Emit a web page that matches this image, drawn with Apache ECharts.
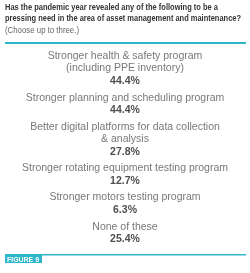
<!DOCTYPE html>
<html><head><meta charset="utf-8">
<script src="https://cdn.jsdelivr.net/npm/echarts@6/dist/echarts.min.js"></script>
<style>html,body{margin:0;padding:0;background:#fff}#c{width:250px;height:273px}</style>
</head><body><div id="c"></div>
<script>
var categories = [
  "Stronger health & safety program\n(including PPE inventory)",
  "Stronger planning and scheduling program",
  "Better digital platforms for data collection\n& analysis",
  "Stronger rotating equipment testing program",
  "Stronger motors testing program",
  "None of these"
];
var values = [44.4, 44.4, 27.8, 12.7, 6.3, 25.4];
var titleLines = [
  "Has the pandemic year revealed any of the following to be a",
  "pressing need in the area of asset management and maintenance?"
];
var subtitle = "(Choose up to three.)";
var figureLabel = "FIGURE 9";

var GAP = 0.35; // gap between blocks in line units
var starts = [], acc = 0;
categories.forEach(function (c, i) {
  starts.push(acc);
  acc += c.split("\n").length + 1 + GAP;
});
var total = acc;
var lineH = 12.4;
var gridTop = 50;
var gridH = total * lineH;

var mctx = document.createElement('canvas').getContext('2d');
function measure(t, font) { mctx.font = font; return mctx.measureText(t).width; }
var titleFont = "bold 9.5px 'Liberation Sans'";
var subFont = "9.5px 'Liberation Sans'";
var titleWidths = [213, 236];
var subWidth = 74;
var figFont = "bold 7.5px 'Liberation Sans'";
var fsx = 32 / measure(figureLabel, figFont);

var teal = "#2db6c9";
var chart = echarts.init(document.getElementById('c'), null, {renderer: 'canvas'});
var graphics = [];
titleLines.forEach(function (t, i) {
  graphics.push({type: 'text', x: 5, y: 2 + i * 11.7, scaleX: titleWidths[i] / measure(t, titleFont),
    style: {text: t, fill: "#333", font: titleFont, textVerticalAlign: 'top'}});
});
graphics.push({type: 'text', x: 5, y: 2 + 2 * 11.7, scaleX: subWidth / measure(subtitle, subFont),
  style: {text: subtitle, fill: "#666", font: subFont, textVerticalAlign: 'top'}});
graphics.push({type: 'rect', shape: {x: 5, y: 42, width: 241, height: 2}, style: {fill: teal}});
graphics.push({type: 'rect', shape: {x: 5, y: 254, width: 241, height: 1.5}, style: {fill: teal}});
graphics.push({type: 'rect', shape: {x: 5, y: 254, width: 37, height: 9}, style: {fill: teal}});
graphics.push({type: 'text', x: 7, y: 255.5, scaleX: fsx,
  style: {text: figureLabel, fill: "#fff", font: figFont, textVerticalAlign: 'top'}});

chart.setOption({
  animation: false,
  grid: {left: 0, right: 0, top: gridTop, height: gridH},
  xAxis: {type: 'value', min: 0, max: 1, show: false},
  yAxis: {type: 'value', min: 0, max: total, inverse: true, show: false},
  series: [{
    type: 'scatter',
    symbolSize: 0,
    data: categories.map(function (c, i) { return {value: [0.5, starts[i]], name: c}; }),
    label: {
      show: true,
      position: 'inside',
      align: 'center',
      verticalAlign: 'top',
      formatter: function (p) {
        var lines = categories[p.dataIndex].split("\n").map(function (l) { return "{n|" + l + "}"; });
        lines.push("{p|" + values[p.dataIndex].toFixed(1) + "%}");
        return lines.join("\n");
      },
      rich: {
        n: {fontFamily: "Liberation Sans", fontSize: 10.5, color: "#555", lineHeight: lineH, align: 'center'},
        p: {fontFamily: "Liberation Sans", fontWeight: "bold", fontSize: 10.5, color: "#222", lineHeight: lineH, align: 'center'}
      }
    }
  }],
  graphic: graphics
});
</script></body></html>
